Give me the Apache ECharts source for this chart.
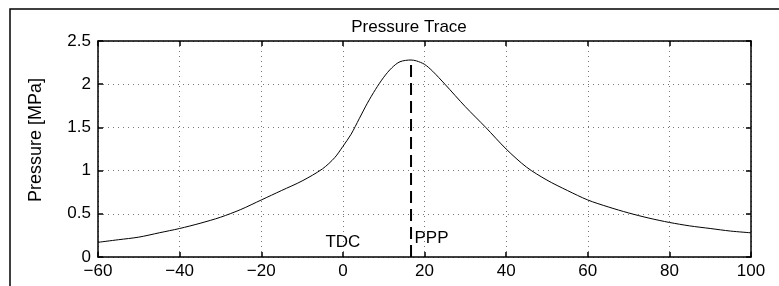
<!DOCTYPE html>
<html>
<head>
<meta charset="utf-8">
<script src="https://cdn.jsdelivr.net/npm/echarts@6/dist/echarts.min.js"></script>
<style>
  html, body { margin: 0; padding: 0; background: #fff; }
  #chart { width: 779px; height: 286px; }
</style>
</head>
<body>
<div id="chart"></div>
<script>
  // crank angle [deg] and pressure [MPa]
  var crankAngle = [-60, -55, -50, -45, -40, -35, -30, -25, -20, -15, -10, -5, -2, 0, 2, 4, 6, 8, 10, 12, 14, 16.7, 18, 20, 22, 25, 30, 35, 40, 45, 50, 55, 60, 65, 70, 75, 80, 85, 90, 95, 100]
  var pressure = [0.17, 0.20, 0.23, 0.28, 0.33, 0.39, 0.46, 0.55, 0.66, 0.77, 0.88, 1.02, 1.15, 1.28, 1.42, 1.60, 1.78, 1.94, 2.08, 2.19, 2.26, 2.28, 2.27, 2.23, 2.15, 2.00, 1.74, 1.50, 1.25, 1.04, 0.89, 0.77, 0.66, 0.58, 0.51, 0.45, 0.40, 0.36, 0.33, 0.30, 0.28]

  // peak pressure position
  var pppAngle = 16.7
  var pppValue = 2.28

  // text markers: [x, y, label]
  var tdcMarker = [0, 0.17, 'TDC']
  var pppMarker = [pppAngle, 0.22, 'PPP']

  var traceData = crankAngle.map(function (a, i) { return [a, pressure[i]] })

  var chart = echarts.init(document.getElementById('chart'))
  var font = 'Liberation Sans, Arial, sans-serif'

  var axisCommon = {
    type: 'value',
    axisLine: { show: true, onZero: false, lineStyle: { color: '#000', width: 1.5 } },
    axisTick: { show: true, inside: true, length: 5, lineStyle: { color: '#000', width: 1.5 } }
  }
  var gridLine = { show: true, lineStyle: { color: '#777', type: [1, 4], width: 1 } }
  var labelStyle = { color: '#000', fontFamily: font, fontSize: 17 }

  chart.setOption({
    animation: false,
    title: {
      text: 'Pressure Trace',
      left: 404,
      textAlign: 'center',
      top: 14,
      textStyle: { fontFamily: font, fontSize: 17, fontWeight: 'normal', color: '#000' }
    },
    grid: { left: 98, right: 28, top: 41, bottom: 29 },
    xAxis: [
      Object.assign({}, axisCommon, {
        min: -60, max: 100, interval: 20,
        axisLabel: Object.assign({
          margin: 6,
          formatter: function (v) { return String(v).replace('-', '\u2212') }
        }, labelStyle),
        splitLine: gridLine
      }),
      Object.assign({}, axisCommon, {
        position: 'top',
        min: -60, max: 100, interval: 20,
        axisLabel: { show: false },
        splitLine: { show: false }
      })
    ],
    yAxis: [
      Object.assign({}, axisCommon, {
        min: 0, max: 2.5, interval: 0.5,
        name: 'Pressure [MPa]',
        nameLocation: 'middle',
        nameGap: 53,
        nameTextStyle: { color: '#000', fontFamily: font, fontSize: 18, padding: [0, 0, 0, 18] },
        axisLabel: Object.assign({ margin: 7 }, labelStyle),
        splitLine: gridLine
      }),
      Object.assign({}, axisCommon, {
        position: 'right',
        min: 0, max: 2.5, interval: 0.5,
        axisLabel: { show: false },
        splitLine: { show: false }
      })
    ],
    graphic: [{
      type: 'polyline',
      shape: { points: [[10, 286], [10, 9], [779, 9]] },
      style: { stroke: '#000', lineWidth: 1.5, fill: null }
    }],
    series: [
      {
        type: 'line',
        data: traceData,
        smooth: 0.3,
        showSymbol: false,
        lineStyle: { color: '#000', width: 1 }
      },
      {
        type: 'line',
        data: [[pppAngle, 0], [pppAngle, pppValue]],
        showSymbol: false,
        lineStyle: { color: '#000', width: 2, type: [12, 6] }
      },
      {
        type: 'scatter',
        symbolSize: 1,
        itemStyle: { color: 'transparent' },
        label: {
          show: true,
          formatter: function (p) { return p.name },
          color: '#000',
          opacity: 1,
          textBorderWidth: 0,
          fontFamily: font,
          fontSize: 17
        },
        data: [
          { value: [tdcMarker[0], tdcMarker[1]], name: tdcMarker[2], label: { position: 'inside' } },
          { value: [pppMarker[0], pppMarker[1]], name: pppMarker[2], label: { position: 'right', distance: 3 } }
        ]
      }
    ]
  })
</script>
</body>
</html>
